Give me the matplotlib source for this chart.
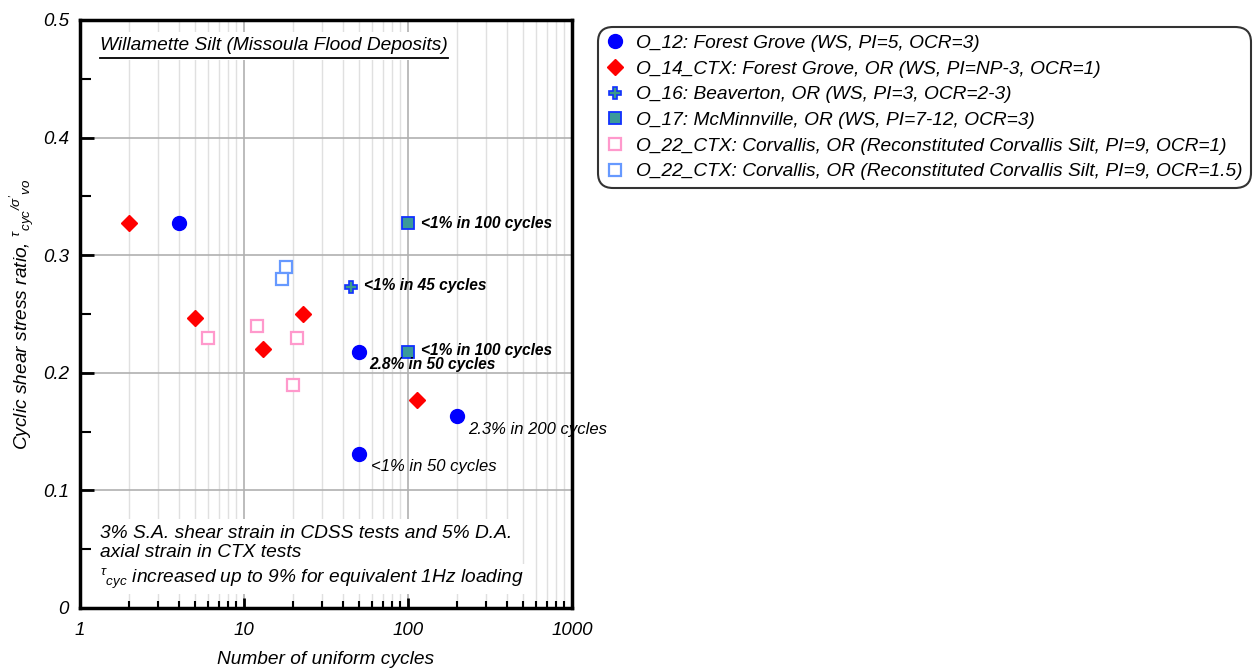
import matplotlib
matplotlib.use("Agg")
import matplotlib.pyplot as plt
from matplotlib.ticker import LogLocator, FixedLocator, NullFormatter, FixedFormatter
from matplotlib.lines import Line2D

plt.rcParams['font.family'] = ['Liberation Sans', 'DejaVu Sans']
plt.rcParams['font.style'] = 'italic'
plt.rcParams['mathtext.fontset'] = 'custom'
plt.rcParams['mathtext.rm'] = 'Liberation Sans:italic'
plt.rcParams['mathtext.it'] = 'Liberation Sans:italic'
plt.rcParams['mathtext.bf'] = 'Liberation Sans:bold:italic'

# ---- data ----
o12_n = [4, 50, 50, 200]
o12_csr = [0.327, 0.218, 0.131, 0.163]
o14_n = [2, 5, 13, 23, 114]
o14_csr = [0.327, 0.247, 0.220, 0.250, 0.177]
o16_n = [45]
o16_csr = [0.273]
o17_n = [100, 100]
o17_csr = [0.327, 0.218]
o22a_n = [6, 12, 21, 20]
o22a_csr = [0.230, 0.240, 0.230, 0.190]
o22b_n = [18, 17]
o22b_csr = [0.290, 0.280]

legend_labels = [
    "O_12: Forest Grove (WS, PI=5, OCR=3)",
    "O_14_CTX: Forest Grove, OR (WS, PI=NP-3, OCR=1)",
    "O_16: Beaverton, OR (WS, PI=3, OCR=2-3)",
    "O_17: McMinnville, OR (WS, PI=7-12, OCR=3)",
    "O_22_CTX: Corvallis, OR (Reconstituted Corvallis Silt, PI=9, OCR=1)",
    "O_22_CTX: Corvallis, OR (Reconstituted Corvallis Silt, PI=9, OCR=1.5)",
]
yticks = [0, 0.1, 0.2, 0.3, 0.4, 0.5]
ytick_labels = ["0", "0.1", "0.2", "0.3", "0.4", "0.5"]
xticks = [1, 10, 100, 1000]
xtick_labels = ["1", "10", "100", "1000"]

fig = plt.figure(figsize=(12.56, 6.72), dpi=100)
ax = fig.add_axes([80/1256, 1-608/672, (572-80)/1256, (608-20)/672])
ax.set_xscale('log')
ax.set_xlim(1, 1000)
ax.set_ylim(0, 0.5)

# grid
ax.xaxis.set_major_locator(FixedLocator(xticks))
ax.xaxis.set_major_formatter(FixedFormatter(xtick_labels))
ax.xaxis.set_minor_locator(LogLocator(base=10, subs=range(2, 10)))
ax.xaxis.set_minor_formatter(NullFormatter())
ax.yaxis.set_major_locator(FixedLocator(yticks))
ax.yaxis.set_major_formatter(FixedFormatter(ytick_labels))
ax.yaxis.set_minor_locator(FixedLocator([0.05, 0.15, 0.25, 0.35, 0.45]))
ax.grid(True, which='major', axis='x', color='#b0b0b0', lw=1.2, zorder=0)
ax.grid(True, which='minor', axis='x', color='#e0e0e0', lw=1.0, zorder=0)
ax.grid(True, which='major', axis='y', color='#b0b0b0', lw=1.2, zorder=0)
ax.set_axisbelow(True)

for s in ax.spines.values():
    s.set_linewidth(2.5)
ax.tick_params(which='major', direction='in', length=7, width=2, labelsize=13.5, pad=8)
ax.tick_params(which='minor', direction='in', length=5, width=1.5)
ax.tick_params(axis='y', which='major', length=10)
ax.tick_params(axis='y', which='minor', length=8)
ax.tick_params(axis='x', pad=10)

# data
h1, = ax.plot(o12_n, o12_csr, 'o', color='#0000ff', ms=10, mec='#0000ff', ls='none', zorder=3)
h2, = ax.plot(o14_n, o14_csr, 'D', color='#ff0000', ms=8.5, mec='#ff0000', ls='none', zorder=3)
h3, = ax.plot(o16_n, o16_csr, 'P', color='#3a9a8a', ms=8, mec='#1030ff', mew=1.2, ls='none', zorder=3)
h4, = ax.plot(o17_n, o17_csr, 's', color='#3a9a9a', ms=9, mec='#1030ff', mew=1.3, ls='none', zorder=3)
h5, = ax.plot(o22a_n, o22a_csr, 's', mfc='white', mec='#ff99cc', mew=1.6, ms=9, ls='none', zorder=3)
h6, = ax.plot(o22b_n, o22b_csr, 's', mfc='white', mec='#6699ff', mew=1.6, ms=9, ls='none', zorder=3)

# annotations
ann_b = dict(fontsize=11.2, fontweight='bold', style='italic', va='center', ha='left',
             textcoords='offset pixels', zorder=4)
ax.annotate("<1% in 100 cycles", (o17_n[0], o17_csr[0]), xytext=(13, 0), **ann_b)
ax.annotate("<1% in 45 cycles", (o16_n[0], o16_csr[0]), xytext=(13, 1), **ann_b)
ax.annotate("<1% in 100 cycles", (o17_n[1], o17_csr[1]), xytext=(13, 1), **ann_b)
ax.annotate("2.8% in 50 cycles", (o12_n[1], o12_csr[1]), xytext=(11, -13), **ann_b)
ann_n = dict(fontsize=12, style='italic', va='center', ha='left',
             textcoords='offset pixels', zorder=4)
ax.annotate("2.3% in 200 cycles", (o12_n[3], o12_csr[3]), xytext=(11, -13), **ann_n)
ax.annotate("<1% in 50 cycles", (o12_n[2], o12_csr[2]), xytext=(12, -13), **ann_n)

# title text (underlined)
t = ax.text(100/1256, 1-46/672, "Willamette Silt (Missoula Flood Deposits)", transform=fig.transFigure,
            fontsize=13.8, style='italic', ha='left', va='center', zorder=4,
            bbox=dict(facecolor='white', edgecolor='none', pad=4))

# bottom note
ax.text(100/1256, 1-543/672, "3% S.A. shear strain in CDSS tests and 5% D.A.\naxial strain in CTX tests",
        transform=fig.transFigure, fontsize=13.8, style='italic', ha='left', va='center',
        linespacing=1.2, zorder=4, bbox=dict(facecolor='white', edgecolor='none', pad=4))
ax.text(100/1256, 1-579/672, r"$^{\tau}{}_{cyc}$ increased up to 9% for equivalent 1Hz loading",
        transform=fig.transFigure, fontsize=13.8, style='italic', ha='left', va='center',
        zorder=4, bbox=dict(facecolor='white', edgecolor='none', pad=2))

ax.set_xlabel("Number of uniform cycles", fontsize=13.8, style='italic', labelpad=9)
ax.set_ylabel(r"Cyclic shear stress ratio, $^{\tau}{}_{cyc}{}^{/\sigma'}{}_{vo}$", fontsize=13.8,
              style='italic', labelpad=5)

leg = fig.legend([h1, h2, h3, h4, h5, h6], legend_labels, loc='upper left',
                 bbox_to_anchor=(598/1256, 1-27/672), fontsize=13.8, frameon=True,
                 fancybox=True, edgecolor='black', handletextpad=0.6, labelspacing=0.43,
                 borderpad=0.4, handlelength=1.0, borderaxespad=0)
leg.get_frame().set_linewidth(1.5)
leg.get_frame().set_boxstyle('round,pad=0.0,rounding_size=0.8')
for txt in leg.get_texts():
    txt.set_style('italic')

# underline title
fig.canvas.draw()
bb = t.get_window_extent().transformed(fig.transFigure.inverted())
fig.add_artist(Line2D([bb.x0, bb.x1], [bb.y0 - 3/672, bb.y0 - 3/672], color='black', lw=1.3,
                      transform=fig.transFigure, zorder=5))

fig.savefig("out.png", dpi=100)
